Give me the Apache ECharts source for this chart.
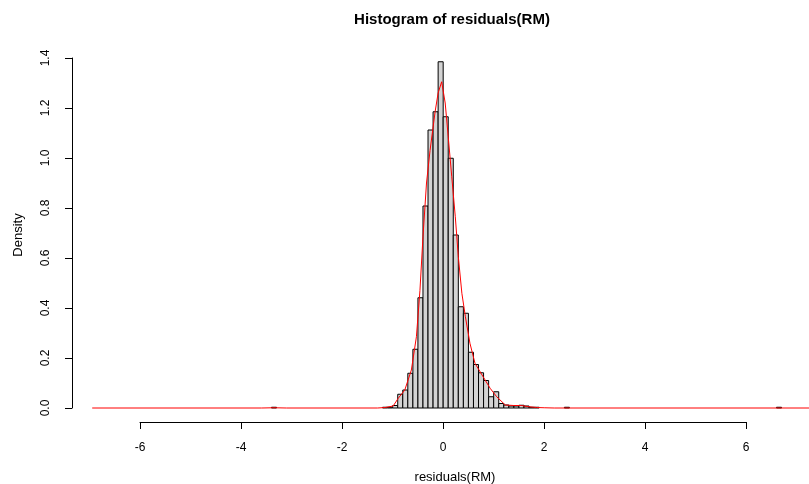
<!DOCTYPE html>
<html>
<head>
<meta charset="utf-8">
<script src="https://cdn.jsdelivr.net/npm/echarts@6/dist/echarts.min.js"></script>
<style>
html,body{margin:0;padding:0;background:#fff;}
#chart{width:809px;height:484px;}
</style>
</head>
<body>
<div id="chart"></div>
<script>
// Histogram bins (left edge of each 0.1-wide bin) and densities
var binWidth = 0.1;
var binLefts = [-3.4,
  -1.2, -1.1, -1.0, -0.9, -0.8, -0.7, -0.6, -0.5, -0.4, -0.3, -0.2, -0.1,
  0.0, 0.1, 0.2, 0.3, 0.4, 0.5, 0.6, 0.7, 0.8, 0.9, 1.0, 1.1, 1.2, 1.3, 1.4,
  1.5, 1.6, 1.7, 1.8,
  2.4, 6.6];
var binDensity = [0.003,
  0.003, 0.003, 0.010, 0.055, 0.072, 0.139, 0.235, 0.441, 0.808, 1.112, 1.185, 1.385,
  1.165, 0.999, 0.692, 0.405, 0.379, 0.223, 0.174, 0.141, 0.110, 0.045, 0.065, 0.018, 0.012, 0.008, 0.008,
  0.011, 0.008, 0.003, 0.003,
  0.003, 0.003];

// Kernel density curve
var densX = [-6.95, -3.6, -3.35, -3.1, -1.3, -1.15, -0.99, -0.89, -0.76, -0.63, -0.53, -0.46, -0.40, -0.33,
  -0.26, -0.16, -0.10, -0.03, 0.04, 0.10, 0.17, 0.24, 0.30, 0.37, 0.44, 0.53, 0.63, 0.77, 0.93, 1.06,
  1.23, 1.40, 1.55, 1.70, 1.85, 2.00, 2.20, 7.40];
var densY = [0, 0, 0.001, 0, 0, 0.002, 0.008, 0.039, 0.072, 0.152, 0.285, 0.47, 0.685, 0.90,
  1.03, 1.185, 1.26, 1.305, 1.22, 1.085, 0.925, 0.765, 0.605, 0.459, 0.365, 0.259, 0.179, 0.132, 0.079, 0.045,
  0.012, 0.010, 0.010, 0.005, 0.002, 0.001, 0, 0];

var xTicks = [-6, -4, -2, 0, 2, 4, 6];
var yTicks = [0.0, 0.2, 0.4, 0.6, 0.8, 1.0, 1.2, 1.4];

var titleText = 'Histogram of residuals(RM)';
var xLabel = 'residuals(RM)';
var yLabel = 'Density';

var FONT = '"Liberation Sans", Arial, sans-serif';
var pxPerUnit = 50.5;
var xMin = -7.35;
var xMax = xMin + 737 / pxPerUnit;

var histData = binLefts.map(function (l, i) { return [l, binDensity[i]]; });
var densData = densX.map(function (x, i) { return [x, densY[i]]; });

var chart = echarts.init(document.getElementById('chart'), null, {renderer: 'canvas'});
chart.setOption({
  animation: false,
  backgroundColor: '#ffffff',
  graphic: [
    {type: 'text', x: 452, y: 20,
     style: {text: titleText, font: 'bold 15px ' + FONT, fill: '#000', align: 'center', verticalAlign: 'middle'}},
    {type: 'text', x: 455, y: 477,
     style: {text: xLabel, font: '13px ' + FONT, fill: '#000', align: 'center', verticalAlign: 'middle'}},
    {type: 'text', x: 18, y: 235, rotation: Math.PI / 2,
     style: {text: yLabel, font: '13px ' + FONT, fill: '#000', align: 'center', verticalAlign: 'middle'}}
  ],
  grid: [
    {left: 72, right: 0, top: 44, bottom: 62, outerBoundsMode: 'none', containLabel: false},
    {left: 140, width: 606, top: 44, bottom: 62, outerBoundsMode: 'none', containLabel: false},
    {left: 72, right: 0, top: 58, height: 350, outerBoundsMode: 'none', containLabel: false}
  ],
  xAxis: [
    {gridIndex: 0, type: 'value', min: xMin, max: xMax, show: false},
    {gridIndex: 1, type: 'value', min: xTicks[0], max: xTicks[xTicks.length - 1], interval: 2,
     position: 'bottom',
     axisLine: {show: true, lineStyle: {color: '#000', width: 1}},
     axisTick: {show: true, length: 7, lineStyle: {color: '#000'}},
     axisLabel: {show: true, margin: 20, color: '#000', fontFamily: FONT, fontSize: 12},
     splitLine: {show: false}},
    {gridIndex: 2, type: 'value', min: 0, max: 1, show: false}
  ],
  yAxis: [
    {gridIndex: 0, type: 'value', min: -0.056, max: 1.456, show: false},
    {gridIndex: 1, type: 'value', min: 0, max: 1, show: false},
    {gridIndex: 2, type: 'value', min: yTicks[0], max: yTicks[yTicks.length - 1], interval: 0.2,
     position: 'left',
     axisLine: {show: true, lineStyle: {color: '#000', width: 1}},
     axisTick: {show: true, length: 7, lineStyle: {color: '#000'}},
     axisLabel: {show: true, margin: 20, rotate: 90, color: '#000', fontFamily: FONT, fontSize: 12,
       formatter: function (v) { return v.toFixed(1); }},
     splitLine: {show: false}}
  ],
  series: [
    {
      type: 'custom', xAxisIndex: 0, yAxisIndex: 0,
      data: histData,
      renderItem: function (params, api) {
        var l = api.value(0), h = api.value(1);
        var p0 = api.coord([l, 0]);
        var p1 = api.coord([l + binWidth, h]);
        return {
          type: 'rect',
          shape: {x: p0[0], y: p1[1], width: p1[0] - p0[0], height: p0[1] - p1[1]},
          style: {fill: '#d3d3d3', stroke: '#000', lineWidth: 1}
        };
      }
    },
    {
      type: 'line', xAxisIndex: 0, yAxisIndex: 0,
      data: densData, showSymbol: false, symbol: 'none', smooth: false, clip: true,
      lineStyle: {color: '#ff0000', width: 1}
    }
  ]
});
</script>
</body>
</html>
